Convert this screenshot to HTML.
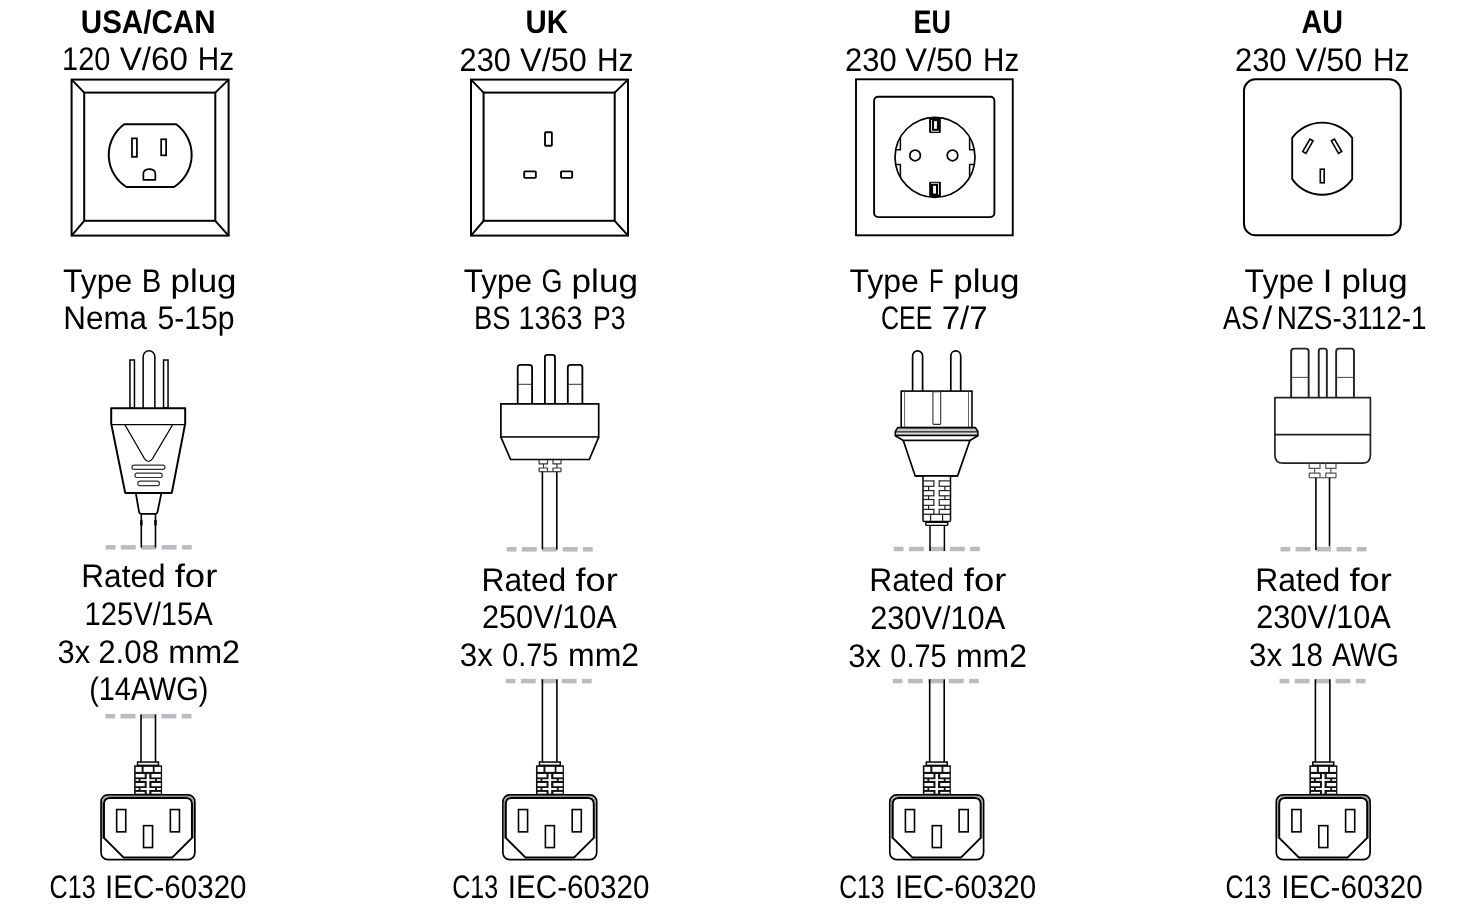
<!DOCTYPE html>
<html><head><meta charset="utf-8"><title>Plug types</title>
<style>
html,body{margin:0;padding:0;background:#fff;width:1460px;height:908px;overflow:hidden}
svg{display:block;will-change:transform}
text{font-family:"Liberation Sans",sans-serif;font-size:32.6px;fill:#000;text-rendering:geometricPrecision}
</style></head><body>
<svg width="1460" height="908" viewBox="0 0 1460 908">
<rect width="1460" height="908" fill="#fff"/>
<rect x="71.60" y="79.60" width="157.00" height="156.00" fill="none" stroke="#000" stroke-width="2"/>
<rect x="84.20" y="92.60" width="131.10" height="128.20" fill="none" stroke="#000" stroke-width="2"/>
<line x1="71.60" y1="79.60" x2="84.20" y2="92.60" stroke="#000" stroke-width="2"/>
<line x1="228.60" y1="79.60" x2="215.30" y2="92.60" stroke="#000" stroke-width="2"/>
<line x1="71.60" y1="235.60" x2="84.20" y2="220.80" stroke="#000" stroke-width="2"/>
<line x1="228.60" y1="235.60" x2="215.30" y2="220.80" stroke="#000" stroke-width="2"/>
<path d="M124.2,124.3 H176.2 A38,38 0 0 1 174,187 H126.4 A38,38 0 0 1 124.2,124.3 Z" fill="none" stroke="#000" stroke-width="2" stroke-linejoin="round"/>
<rect x="131.97" y="138.37" width="4.95" height="18.45" fill="none" stroke="#000" stroke-width="1.75"/>
<rect x="161.17" y="139.27" width="4.95" height="16.05" fill="none" stroke="#000" stroke-width="1.75"/>
<path d="M143.37,179.83 V173.3 A5.98,4.23 0 0 1 155.33,173.3 V179.83 Z" fill="none" stroke="#000" stroke-width="1.75" stroke-linejoin="round"/>
<rect x="471.00" y="79.60" width="157.00" height="156.00" fill="none" stroke="#000" stroke-width="2"/>
<rect x="483.60" y="92.60" width="131.10" height="128.20" fill="none" stroke="#000" stroke-width="2"/>
<line x1="471.00" y1="79.60" x2="483.60" y2="92.60" stroke="#000" stroke-width="2"/>
<line x1="628.00" y1="79.60" x2="614.70" y2="92.60" stroke="#000" stroke-width="2"/>
<line x1="471.00" y1="235.60" x2="483.60" y2="220.80" stroke="#000" stroke-width="2"/>
<line x1="628.00" y1="235.60" x2="614.70" y2="220.80" stroke="#000" stroke-width="2"/>
<rect x="545.03" y="132.23" width="6.85" height="13.55" rx="0.8" fill="none" stroke="#000" stroke-width="1.85"/>
<rect x="524.20" y="171.30" width="11.65" height="6.55" rx="0.8" fill="none" stroke="#000" stroke-width="1.85"/>
<rect x="561.00" y="171.30" width="11.15" height="6.55" rx="0.8" fill="none" stroke="#000" stroke-width="1.85"/>
<rect x="856.00" y="79.30" width="156.75" height="156.00" fill="none" stroke="#000" stroke-width="1.9"/>
<rect x="874.10" y="96.80" width="120.30" height="120.30" rx="4" fill="none" stroke="#000" stroke-width="1.9"/>
<circle cx="935.00" cy="157.30" r="40.00" fill="none" stroke="#000" stroke-width="1.7"/>
<circle cx="915.10" cy="155.45" r="5.30" fill="none" stroke="#000" stroke-width="1.75"/>
<circle cx="952.50" cy="155.45" r="5.30" fill="none" stroke="#000" stroke-width="1.75"/>
<g transform="rotate(0 935.0 157.3)">
<path d="M929.10,117.50 H940.80 V131.90 Q940.80,132.90 939.80,132.90 H930.10 Q929.10,132.90 929.10,131.90 Z" fill="#000"/>
<path d="M931.50,120.00 V131.30 H939.00" fill="none" stroke="#fff" stroke-width="0.9"/>
<rect x="934.00" y="121.10" width="2.90" height="7.70" fill="#fff"/>
</g>
<g transform="rotate(180 935.0 157.3)">
<path d="M929.10,117.50 H940.80 V131.90 Q940.80,132.90 939.80,132.90 H930.10 Q929.10,132.90 929.10,131.90 Z" fill="#000"/>
<path d="M931.50,120.00 V131.30 H939.00" fill="none" stroke="#fff" stroke-width="0.9"/>
<rect x="934.00" y="121.10" width="2.90" height="7.70" fill="#fff"/>
</g>
<path d="M900.40,137.23 V149.8 H895.71" fill="none" stroke="#000" stroke-width="1.5" stroke-linejoin="round"/>
<path d="M895.67,164.6 H900.40 V177.37" fill="none" stroke="#000" stroke-width="1.5" stroke-linejoin="round"/>
<path d="M969.60,137.23 V149.8 H974.29" fill="none" stroke="#000" stroke-width="1.5" stroke-linejoin="round"/>
<path d="M974.33,164.6 H969.60 V177.37" fill="none" stroke="#000" stroke-width="1.5" stroke-linejoin="round"/>
<rect x="1243.95" y="79.30" width="156.85" height="155.95" rx="11.5" fill="none" stroke="#000" stroke-width="2.0"/>
<path d="M1292.2,137.9 A37.2,37.2 0 0 1 1352.2,137.9 V179.1 A36.6,36.6 0 0 1 1292.2,179.1 Z" fill="none" stroke="#000" stroke-width="1.85" stroke-linejoin="round"/>
<rect x="-1.80" y="-7.20" width="3.6" height="14.4" fill="none" stroke="#000" stroke-width="1.6" transform="translate(1307.9,146.2) rotate(30)"/>
<rect x="-1.80" y="-7.20" width="3.6" height="14.4" fill="none" stroke="#000" stroke-width="1.6" transform="translate(1336.5,146.2) rotate(-30)"/>
<rect x="1320.30" y="169.20" width="3.90" height="13.60" fill="none" stroke="#000" stroke-width="1.6"/>
<rect x="105.70" y="545.05" width="9.70" height="4.50" fill="#babbbf"/>
<rect x="120.80" y="545.05" width="14.90" height="4.50" fill="#babbbf"/>
<rect x="141.20" y="545.05" width="15.00" height="4.50" fill="#babbbf"/>
<rect x="161.70" y="545.05" width="14.90" height="4.50" fill="#babbbf"/>
<rect x="182.00" y="545.05" width="9.70" height="4.50" fill="#babbbf"/>
<rect x="129.95" y="360.00" width="4.50" height="48.00" fill="#fff" stroke="#000" stroke-width="1.5"/>
<rect x="163.55" y="360.00" width="4.50" height="48.00" fill="#fff" stroke="#000" stroke-width="1.5"/>
<path d="M143.15,408 V356.6 A5.85,5.85 0 0 1 154.85,356.6 V408" fill="#fff" stroke="#000" stroke-width="1.5" stroke-linejoin="round"/>
<path d="M111.4,424.6 L125.2,492.9 H171.8 L185.0,424.6" fill="#fff" stroke="#000" stroke-width="2" stroke-linejoin="round"/>
<path d="M111.2,424.8 V408.3 H185.2 V424.8" fill="#fff" stroke="#000" stroke-width="2" stroke-linejoin="round"/>
<line x1="111.20" y1="424.60" x2="185.20" y2="424.60" stroke="#000" stroke-width="1.1"/>
<path d="M124.8,424.6 L144.5,458.6 Q148.5,464.5 152.5,458.6 L172.7,424.6" fill="none" stroke="#000" stroke-width="1.1" stroke-linejoin="round"/>
<rect x="132.00" y="465.20" width="33.00" height="4.20" rx="2.1" fill="none" stroke="#333" stroke-width="1.2"/>
<rect x="135.00" y="473.20" width="27.20" height="4.30" rx="2.1" fill="none" stroke="#333" stroke-width="1.2"/>
<rect x="137.80" y="481.20" width="21.60" height="4.40" rx="2.2" fill="none" stroke="#333" stroke-width="1.2"/>
<path d="M135.8,492.9 L139.0,511.6 Q139.4,513.9 141.6,513.9 H155.0 Q157.2,513.9 157.6,511.6 L161.4,492.9" fill="#fff" stroke="#000" stroke-width="1.8" stroke-linejoin="round"/>
<line x1="125.20" y1="492.90" x2="171.80" y2="492.90" stroke="#000" stroke-width="2.0"/>
<line x1="141.30" y1="513.90" x2="141.30" y2="547.50" stroke="#000" stroke-width="1.6"/>
<line x1="155.50" y1="513.90" x2="155.50" y2="547.50" stroke="#000" stroke-width="1.6"/>
<rect x="140.20" y="519.80" width="2.40" height="6.00" rx="0.8" fill="#000"/>
<rect x="154.30" y="519.80" width="2.40" height="6.00" rx="0.8" fill="#000"/>
<rect x="506.80" y="547.05" width="9.70" height="4.50" fill="#babbbf"/>
<rect x="521.90" y="547.05" width="14.90" height="4.50" fill="#babbbf"/>
<rect x="542.30" y="547.05" width="15.00" height="4.50" fill="#babbbf"/>
<rect x="562.80" y="547.05" width="14.90" height="4.50" fill="#babbbf"/>
<rect x="583.10" y="547.05" width="9.70" height="4.50" fill="#babbbf"/>
<path d="M517.7,404 V367.40000000000003 Q517.7,364.8 520.3000000000001,364.8 H529.5 Q532.1,364.8 532.1,367.40000000000003 V404" fill="#fff" stroke="#000" stroke-width="1.8" stroke-linejoin="round"/>
<path d="M567.8,404 V367.40000000000003 Q567.8,364.8 570.4,364.8 H579.8 Q582.4,364.8 582.4,367.40000000000003 V404" fill="#fff" stroke="#000" stroke-width="1.8" stroke-linejoin="round"/>
<path d="M544.9,404 V357.29999999999995 Q544.9,354.9 547.3,354.9 H552.6 Q555.0,354.9 555.0,357.29999999999995 V404" fill="#fff" stroke="#000" stroke-width="1.8" stroke-linejoin="round"/>
<line x1="517.70" y1="384.30" x2="532.10" y2="384.30" stroke="#333" stroke-width="1.0"/>
<line x1="567.80" y1="384.30" x2="582.40" y2="384.30" stroke="#333" stroke-width="1.0"/>
<rect x="500.90" y="403.90" width="97.80" height="33.20" fill="#fff" stroke="#000" stroke-width="1.7"/>
<path d="M500.9,437.1 L510.6,459.5 H589.3 L598.7,437.1" fill="#fff" stroke="#000" stroke-width="1.7" stroke-linejoin="round"/>
<line x1="500.90" y1="437.10" x2="598.70" y2="437.10" stroke="#111" stroke-width="1.2"/>
<path d="M539.1,459.8 V463.9 H547.5 V459.8" fill="none" stroke="#3a3a3a" stroke-width="1.2" stroke-linejoin="round"/>
<path d="M553.0,459.8 V463.9 H561.0 V459.8" fill="none" stroke="#3a3a3a" stroke-width="1.2" stroke-linejoin="round"/>
<line x1="543.50" y1="463.90" x2="543.50" y2="468.00" stroke="#3a3a3a" stroke-width="1.2"/>
<line x1="556.90" y1="463.90" x2="556.90" y2="468.00" stroke="#3a3a3a" stroke-width="1.2"/>
<path d="M539.1,471.7 V468.0 H547.5 V471.7" fill="none" stroke="#3a3a3a" stroke-width="1.2" stroke-linejoin="round"/>
<path d="M553.0,471.7 V468.0 H561.0 V471.7" fill="none" stroke="#3a3a3a" stroke-width="1.2" stroke-linejoin="round"/>
<line x1="539.10" y1="471.70" x2="561.00" y2="471.70" stroke="#3a3a3a" stroke-width="1.2"/>
<line x1="542.40" y1="471.70" x2="542.40" y2="549.40" stroke="#000" stroke-width="1.6"/>
<line x1="556.80" y1="471.70" x2="556.80" y2="549.40" stroke="#000" stroke-width="1.6"/>
<rect x="893.80" y="546.75" width="9.70" height="4.50" fill="#babbbf"/>
<rect x="908.90" y="546.75" width="14.90" height="4.50" fill="#babbbf"/>
<rect x="929.30" y="546.75" width="15.00" height="4.50" fill="#babbbf"/>
<rect x="949.80" y="546.75" width="14.90" height="4.50" fill="#babbbf"/>
<rect x="970.10" y="546.75" width="9.70" height="4.50" fill="#babbbf"/>
<path d="M912.6,391 V355.9 A5.0,5.0 0 0 1 922.6,355.9 V391" fill="#fff" stroke="#000" stroke-width="1.7" stroke-linejoin="round"/>
<path d="M950.8,391 V355.9 A4.95,4.95 0 0 1 960.7,355.9 V391" fill="#fff" stroke="#000" stroke-width="1.7" stroke-linejoin="round"/>
<rect x="901.20" y="391.10" width="70.80" height="36.60" fill="#fff" stroke="#000" stroke-width="1.6"/>
<line x1="904.60" y1="391.80" x2="904.60" y2="427.00" stroke="#666" stroke-width="1.0"/>
<line x1="968.50" y1="391.80" x2="968.50" y2="427.00" stroke="#666" stroke-width="1.0"/>
<rect x="932.90" y="391.80" width="7.80" height="32.60" rx="0.8" fill="none" stroke="#333" stroke-width="1.1"/>
<rect x="896.20" y="428.40" width="80.80" height="3.00" fill="#c8c8c8"/>
<rect x="895.80" y="432.40" width="81.60" height="2.60" fill="#e0e0e0"/>
<path d="M897.8,427.6 H975.4 L977.9,431.5 V435.5 H895.3 V431.5 Z" fill="none" stroke="#000" stroke-width="1.6" stroke-linejoin="round"/>
<line x1="895.60" y1="431.80" x2="977.60" y2="431.80" stroke="#111" stroke-width="1.2"/>
<path d="M895.0,435.5 L903.3,440.5 H969.9 L978.2,435.5" fill="#fff" stroke="#000" stroke-width="1.7" stroke-linejoin="round"/>
<path d="M903.3,440.5 L915.2,475.9 H957.6 L969.9,440.5" fill="#fff" stroke="#000" stroke-width="1.7" stroke-linejoin="round"/>
<line x1="895.30" y1="435.50" x2="977.90" y2="435.50" stroke="#000" stroke-width="1.7"/>
<line x1="903.30" y1="440.50" x2="969.90" y2="440.50" stroke="#000" stroke-width="1.7"/>
<path d="M923.0,475.9 V520.2 Q923.0,521.6 924.4,521.6 H949.1 Q950.5,521.6 950.5,520.2 V475.9" fill="#fff" stroke="#000" stroke-width="1.5" stroke-linejoin="round"/>
<line x1="923.00" y1="480.90" x2="933.90" y2="480.90" stroke="#222" stroke-width="1.2"/>
<line x1="939.20" y1="480.90" x2="950.50" y2="480.90" stroke="#222" stroke-width="1.2"/>
<line x1="923.00" y1="486.30" x2="933.90" y2="486.30" stroke="#222" stroke-width="1.2"/>
<line x1="939.20" y1="486.30" x2="950.50" y2="486.30" stroke="#222" stroke-width="1.2"/>
<line x1="923.00" y1="490.60" x2="933.90" y2="490.60" stroke="#222" stroke-width="1.2"/>
<line x1="939.20" y1="490.60" x2="950.50" y2="490.60" stroke="#222" stroke-width="1.2"/>
<line x1="923.00" y1="495.80" x2="933.90" y2="495.80" stroke="#222" stroke-width="1.2"/>
<line x1="939.20" y1="495.80" x2="950.50" y2="495.80" stroke="#222" stroke-width="1.2"/>
<line x1="923.00" y1="499.50" x2="933.90" y2="499.50" stroke="#222" stroke-width="1.2"/>
<line x1="939.20" y1="499.50" x2="950.50" y2="499.50" stroke="#222" stroke-width="1.2"/>
<line x1="923.00" y1="505.30" x2="933.90" y2="505.30" stroke="#222" stroke-width="1.2"/>
<line x1="939.20" y1="505.30" x2="950.50" y2="505.30" stroke="#222" stroke-width="1.2"/>
<line x1="923.00" y1="509.40" x2="933.90" y2="509.40" stroke="#222" stroke-width="1.2"/>
<line x1="939.20" y1="509.40" x2="950.50" y2="509.40" stroke="#222" stroke-width="1.2"/>
<line x1="923.00" y1="514.30" x2="950.50" y2="514.30" stroke="#222" stroke-width="1.3"/>
<line x1="933.90" y1="480.30" x2="933.90" y2="486.90" stroke="#222" stroke-width="1.2"/>
<line x1="939.20" y1="480.30" x2="939.20" y2="486.90" stroke="#222" stroke-width="1.2"/>
<line x1="933.90" y1="490.00" x2="933.90" y2="496.40" stroke="#222" stroke-width="1.2"/>
<line x1="939.20" y1="490.00" x2="939.20" y2="496.40" stroke="#222" stroke-width="1.2"/>
<line x1="933.90" y1="498.90" x2="933.90" y2="505.90" stroke="#222" stroke-width="1.2"/>
<line x1="939.20" y1="498.90" x2="939.20" y2="505.90" stroke="#222" stroke-width="1.2"/>
<line x1="933.90" y1="508.80" x2="933.90" y2="514.90" stroke="#222" stroke-width="1.2"/>
<line x1="939.20" y1="508.80" x2="939.20" y2="514.90" stroke="#222" stroke-width="1.2"/>
<line x1="928.60" y1="486.30" x2="928.60" y2="490.60" stroke="#222" stroke-width="1.2"/>
<line x1="944.90" y1="486.30" x2="944.90" y2="490.60" stroke="#222" stroke-width="1.2"/>
<line x1="928.60" y1="495.80" x2="928.60" y2="499.50" stroke="#222" stroke-width="1.2"/>
<line x1="944.90" y1="495.80" x2="944.90" y2="499.50" stroke="#222" stroke-width="1.2"/>
<line x1="928.60" y1="505.30" x2="928.60" y2="509.40" stroke="#222" stroke-width="1.2"/>
<line x1="944.90" y1="505.30" x2="944.90" y2="509.40" stroke="#222" stroke-width="1.2"/>
<line x1="930.60" y1="514.30" x2="930.60" y2="521.60" stroke="#222" stroke-width="1.2"/>
<line x1="942.60" y1="514.30" x2="942.60" y2="521.60" stroke="#222" stroke-width="1.2"/>
<rect x="925.80" y="522.20" width="22.00" height="3.20" rx="1" fill="#fff" stroke="#000" stroke-width="1.4"/>
<line x1="915.20" y1="475.90" x2="957.60" y2="475.90" stroke="#000" stroke-width="1.7"/>
<line x1="930.00" y1="525.60" x2="930.00" y2="551.00" stroke="#000" stroke-width="1.5"/>
<line x1="944.40" y1="525.60" x2="944.40" y2="551.00" stroke="#000" stroke-width="1.5"/>
<rect x="1280.50" y="546.95" width="9.70" height="4.50" fill="#babbbf"/>
<rect x="1295.60" y="546.95" width="14.90" height="4.50" fill="#babbbf"/>
<rect x="1316.00" y="546.95" width="15.00" height="4.50" fill="#babbbf"/>
<rect x="1336.50" y="546.95" width="14.90" height="4.50" fill="#babbbf"/>
<rect x="1356.80" y="546.95" width="9.70" height="4.50" fill="#babbbf"/>
<path d="M1291.15,397.5 V351.40000000000003 Q1291.15,348.6 1293.95,348.6 H1305.8500000000001 Q1308.65,348.6 1308.65,351.40000000000003 V397.5" fill="#fff" stroke="#222" stroke-width="1.9" stroke-linejoin="round"/>
<path d="M1336.15,397.5 V351.40000000000003 Q1336.15,348.6 1338.95,348.6 H1351.15 Q1353.95,348.6 1353.95,351.40000000000003 V397.5" fill="#fff" stroke="#222" stroke-width="1.9" stroke-linejoin="round"/>
<path d="M1318.75,397.5 V351.0 Q1318.75,348.6 1321.15,348.6 H1324.4499999999998 Q1326.85,348.6 1326.85,351.0 V397.5" fill="#fff" stroke="#222" stroke-width="1.9" stroke-linejoin="round"/>
<line x1="1291.15" y1="377.40" x2="1308.65" y2="377.40" stroke="#444" stroke-width="1.0"/>
<line x1="1336.15" y1="377.40" x2="1353.95" y2="377.40" stroke="#444" stroke-width="1.0"/>
<path d="M1274.9,397.7 H1370.4 V455 Q1370.4,463.2 1362.2,463.2 H1283.1 Q1274.9,463.2 1274.9,455 Z" fill="#fff" stroke="#222" stroke-width="1.7" stroke-linejoin="round"/>
<line x1="1274.90" y1="434.60" x2="1370.40" y2="434.60" stroke="#222" stroke-width="1.7"/>
<path d="M1309.2,463.2 V468.4 H1320.0 V463.2" fill="none" stroke="#555" stroke-width="1.2" stroke-linejoin="round"/>
<path d="M1325.8,463.2 V468.4 H1336.0 V463.2" fill="none" stroke="#555" stroke-width="1.2" stroke-linejoin="round"/>
<line x1="1314.60" y1="468.40" x2="1314.60" y2="473.20" stroke="#555" stroke-width="1.2"/>
<line x1="1330.80" y1="468.40" x2="1330.80" y2="473.20" stroke="#555" stroke-width="1.2"/>
<path d="M1309.2,477.7 V473.2 H1320.0 V477.7" fill="none" stroke="#555" stroke-width="1.2" stroke-linejoin="round"/>
<path d="M1325.8,477.7 V473.2 H1336.0 V477.7" fill="none" stroke="#555" stroke-width="1.2" stroke-linejoin="round"/>
<line x1="1309.20" y1="477.70" x2="1336.00" y2="477.70" stroke="#555" stroke-width="1.2"/>
<line x1="1315.90" y1="477.70" x2="1315.90" y2="549.90" stroke="#000" stroke-width="1.6"/>
<line x1="1329.50" y1="477.70" x2="1329.50" y2="546.40" stroke="#000" stroke-width="1.6"/>
<rect x="105.45" y="713.95" width="9.70" height="4.50" fill="#babbbf"/>
<rect x="120.55" y="713.95" width="14.90" height="4.50" fill="#babbbf"/>
<rect x="140.95" y="713.95" width="15.00" height="4.50" fill="#babbbf"/>
<rect x="161.45" y="713.95" width="14.90" height="4.50" fill="#babbbf"/>
<rect x="181.75" y="713.95" width="9.70" height="4.50" fill="#babbbf"/>
<line x1="141.00" y1="714.40" x2="141.00" y2="761.80" stroke="#000" stroke-width="1.6"/>
<line x1="155.50" y1="714.40" x2="155.50" y2="761.80" stroke="#000" stroke-width="1.6"/>
<rect x="137.55" y="762.05" width="20.90" height="3.30" fill="#fff" stroke="#000" stroke-width="1.5"/>
<rect x="134.10" y="765.30" width="28.00" height="30.00" fill="#111"/>
<rect x="135.70" y="766.90" width="5.90" height="5.00" fill="#fff"/>
<rect x="143.60" y="766.90" width="9.20" height="5.00" fill="#fff"/>
<rect x="154.60" y="766.90" width="6.20" height="5.00" fill="#fff"/>
<rect x="135.70" y="774.00" width="9.00" height="3.40" fill="#fff"/>
<rect x="151.50" y="774.00" width="9.30" height="3.40" fill="#fff"/>
<rect x="135.70" y="779.20" width="3.00" height="1.70" fill="#fff"/>
<rect x="140.50" y="779.20" width="14.50" height="1.70" fill="#fff"/>
<rect x="156.80" y="779.20" width="4.00" height="1.70" fill="#fff"/>
<rect x="135.70" y="783.00" width="9.00" height="3.20" fill="#fff"/>
<rect x="151.50" y="783.00" width="9.30" height="3.20" fill="#fff"/>
<rect x="135.70" y="788.00" width="3.00" height="2.00" fill="#fff"/>
<rect x="140.50" y="788.00" width="14.50" height="2.00" fill="#fff"/>
<rect x="156.80" y="788.00" width="4.00" height="2.00" fill="#fff"/>
<rect x="135.70" y="791.90" width="9.00" height="1.80" fill="#fff"/>
<rect x="151.50" y="791.90" width="9.30" height="1.80" fill="#fff"/>
<rect x="146.70" y="774.00" width="2.60" height="19.70" fill="#fff"/>
<rect x="101.05" y="794.9" width="93.8" height="64.7" rx="6.8" fill="#fff" stroke="#000" stroke-width="1.7"/>
<path d="M102.50,838.6 V803 Q102.50,796.4 108.95,796.4 H186.95 Q193.40,796.4 193.40,803 V838.6" fill="none" stroke="#888" stroke-width="1.0" stroke-linejoin="round"/>
<path d="M103.95,837.9 V804 Q103.95,797.9 109.95,797.9 H185.95 Q191.95,797.9 191.95,804 V837.9 L172.15,857.6 H123.75 Z" fill="none" stroke="#000" stroke-width="2.0" stroke-linejoin="round"/>
<rect x="116.65" y="809.55" width="9.10" height="22.30" fill="none" stroke="#000" stroke-width="1.6"/>
<rect x="170.35" y="809.55" width="9.10" height="22.30" fill="none" stroke="#000" stroke-width="1.6"/>
<rect x="143.55" y="825.65" width="9.00" height="21.90" fill="none" stroke="#000" stroke-width="1.6"/>
<rect x="505.70" y="678.85" width="9.70" height="4.50" fill="#babbbf"/>
<rect x="520.80" y="678.85" width="14.90" height="4.50" fill="#babbbf"/>
<rect x="541.20" y="678.85" width="15.00" height="4.50" fill="#babbbf"/>
<rect x="561.70" y="678.85" width="14.90" height="4.50" fill="#babbbf"/>
<rect x="582.00" y="678.85" width="9.70" height="4.50" fill="#babbbf"/>
<line x1="542.40" y1="679.30" x2="542.40" y2="761.80" stroke="#000" stroke-width="1.6"/>
<line x1="556.90" y1="679.30" x2="556.90" y2="761.80" stroke="#000" stroke-width="1.6"/>
<rect x="539.40" y="762.05" width="20.90" height="3.30" fill="#fff" stroke="#000" stroke-width="1.5"/>
<rect x="535.95" y="765.30" width="28.00" height="30.00" fill="#111"/>
<rect x="537.55" y="766.90" width="5.90" height="5.00" fill="#fff"/>
<rect x="545.45" y="766.90" width="9.20" height="5.00" fill="#fff"/>
<rect x="556.45" y="766.90" width="6.20" height="5.00" fill="#fff"/>
<rect x="537.55" y="774.00" width="9.00" height="3.40" fill="#fff"/>
<rect x="553.35" y="774.00" width="9.30" height="3.40" fill="#fff"/>
<rect x="537.55" y="779.20" width="3.00" height="1.70" fill="#fff"/>
<rect x="542.35" y="779.20" width="14.50" height="1.70" fill="#fff"/>
<rect x="558.65" y="779.20" width="4.00" height="1.70" fill="#fff"/>
<rect x="537.55" y="783.00" width="9.00" height="3.20" fill="#fff"/>
<rect x="553.35" y="783.00" width="9.30" height="3.20" fill="#fff"/>
<rect x="537.55" y="788.00" width="3.00" height="2.00" fill="#fff"/>
<rect x="542.35" y="788.00" width="14.50" height="2.00" fill="#fff"/>
<rect x="558.65" y="788.00" width="4.00" height="2.00" fill="#fff"/>
<rect x="537.55" y="791.90" width="9.00" height="1.80" fill="#fff"/>
<rect x="553.35" y="791.90" width="9.30" height="1.80" fill="#fff"/>
<rect x="548.55" y="774.00" width="2.60" height="19.70" fill="#fff"/>
<rect x="502.90" y="794.9" width="93.8" height="64.7" rx="6.8" fill="#fff" stroke="#000" stroke-width="1.7"/>
<path d="M504.35,838.6 V803 Q504.35,796.4 510.80,796.4 H588.80 Q595.25,796.4 595.25,803 V838.6" fill="none" stroke="#888" stroke-width="1.0" stroke-linejoin="round"/>
<path d="M505.80,837.9 V804 Q505.80,797.9 511.80,797.9 H587.80 Q593.80,797.9 593.80,804 V837.9 L574.00,857.6 H525.60 Z" fill="none" stroke="#000" stroke-width="2.0" stroke-linejoin="round"/>
<rect x="518.50" y="809.55" width="9.10" height="22.30" fill="none" stroke="#000" stroke-width="1.6"/>
<rect x="572.20" y="809.55" width="9.10" height="22.30" fill="none" stroke="#000" stroke-width="1.6"/>
<rect x="545.40" y="825.65" width="9.00" height="21.90" fill="none" stroke="#000" stroke-width="1.6"/>
<rect x="892.80" y="678.85" width="9.70" height="4.50" fill="#babbbf"/>
<rect x="907.90" y="678.85" width="14.90" height="4.50" fill="#babbbf"/>
<rect x="928.30" y="678.85" width="15.00" height="4.50" fill="#babbbf"/>
<rect x="948.80" y="678.85" width="14.90" height="4.50" fill="#babbbf"/>
<rect x="969.10" y="678.85" width="9.70" height="4.50" fill="#babbbf"/>
<line x1="929.70" y1="679.30" x2="929.70" y2="761.80" stroke="#000" stroke-width="1.6"/>
<line x1="944.20" y1="679.30" x2="944.20" y2="761.80" stroke="#000" stroke-width="1.6"/>
<rect x="926.30" y="762.05" width="20.90" height="3.30" fill="#fff" stroke="#000" stroke-width="1.5"/>
<rect x="922.85" y="765.30" width="28.00" height="30.00" fill="#111"/>
<rect x="924.45" y="766.90" width="5.90" height="5.00" fill="#fff"/>
<rect x="932.35" y="766.90" width="9.20" height="5.00" fill="#fff"/>
<rect x="943.35" y="766.90" width="6.20" height="5.00" fill="#fff"/>
<rect x="924.45" y="774.00" width="9.00" height="3.40" fill="#fff"/>
<rect x="940.25" y="774.00" width="9.30" height="3.40" fill="#fff"/>
<rect x="924.45" y="779.20" width="3.00" height="1.70" fill="#fff"/>
<rect x="929.25" y="779.20" width="14.50" height="1.70" fill="#fff"/>
<rect x="945.55" y="779.20" width="4.00" height="1.70" fill="#fff"/>
<rect x="924.45" y="783.00" width="9.00" height="3.20" fill="#fff"/>
<rect x="940.25" y="783.00" width="9.30" height="3.20" fill="#fff"/>
<rect x="924.45" y="788.00" width="3.00" height="2.00" fill="#fff"/>
<rect x="929.25" y="788.00" width="14.50" height="2.00" fill="#fff"/>
<rect x="945.55" y="788.00" width="4.00" height="2.00" fill="#fff"/>
<rect x="924.45" y="791.90" width="9.00" height="1.80" fill="#fff"/>
<rect x="940.25" y="791.90" width="9.30" height="1.80" fill="#fff"/>
<rect x="935.45" y="774.00" width="2.60" height="19.70" fill="#fff"/>
<rect x="889.80" y="794.9" width="93.8" height="64.7" rx="6.8" fill="#fff" stroke="#000" stroke-width="1.7"/>
<path d="M891.25,838.6 V803 Q891.25,796.4 897.70,796.4 H975.70 Q982.15,796.4 982.15,803 V838.6" fill="none" stroke="#888" stroke-width="1.0" stroke-linejoin="round"/>
<path d="M892.70,837.9 V804 Q892.70,797.9 898.70,797.9 H974.70 Q980.70,797.9 980.70,804 V837.9 L960.90,857.6 H912.50 Z" fill="none" stroke="#000" stroke-width="2.0" stroke-linejoin="round"/>
<rect x="905.40" y="809.55" width="9.10" height="22.30" fill="none" stroke="#000" stroke-width="1.6"/>
<rect x="959.10" y="809.55" width="9.10" height="22.30" fill="none" stroke="#000" stroke-width="1.6"/>
<rect x="932.30" y="825.65" width="9.00" height="21.90" fill="none" stroke="#000" stroke-width="1.6"/>
<rect x="1279.50" y="678.85" width="9.70" height="4.50" fill="#babbbf"/>
<rect x="1294.60" y="678.85" width="14.90" height="4.50" fill="#babbbf"/>
<rect x="1315.00" y="678.85" width="15.00" height="4.50" fill="#babbbf"/>
<rect x="1335.50" y="678.85" width="14.90" height="4.50" fill="#babbbf"/>
<rect x="1355.80" y="678.85" width="9.70" height="4.50" fill="#babbbf"/>
<line x1="1315.40" y1="679.30" x2="1315.40" y2="761.80" stroke="#000" stroke-width="1.6"/>
<line x1="1329.90" y1="679.30" x2="1329.90" y2="761.80" stroke="#000" stroke-width="1.6"/>
<rect x="1312.80" y="762.05" width="20.90" height="3.30" fill="#fff" stroke="#000" stroke-width="1.5"/>
<rect x="1309.35" y="765.30" width="28.00" height="30.00" fill="#111"/>
<rect x="1310.95" y="766.90" width="5.90" height="5.00" fill="#fff"/>
<rect x="1318.85" y="766.90" width="9.20" height="5.00" fill="#fff"/>
<rect x="1329.85" y="766.90" width="6.20" height="5.00" fill="#fff"/>
<rect x="1310.95" y="774.00" width="9.00" height="3.40" fill="#fff"/>
<rect x="1326.75" y="774.00" width="9.30" height="3.40" fill="#fff"/>
<rect x="1310.95" y="779.20" width="3.00" height="1.70" fill="#fff"/>
<rect x="1315.75" y="779.20" width="14.50" height="1.70" fill="#fff"/>
<rect x="1332.05" y="779.20" width="4.00" height="1.70" fill="#fff"/>
<rect x="1310.95" y="783.00" width="9.00" height="3.20" fill="#fff"/>
<rect x="1326.75" y="783.00" width="9.30" height="3.20" fill="#fff"/>
<rect x="1310.95" y="788.00" width="3.00" height="2.00" fill="#fff"/>
<rect x="1315.75" y="788.00" width="14.50" height="2.00" fill="#fff"/>
<rect x="1332.05" y="788.00" width="4.00" height="2.00" fill="#fff"/>
<rect x="1310.95" y="791.90" width="9.00" height="1.80" fill="#fff"/>
<rect x="1326.75" y="791.90" width="9.30" height="1.80" fill="#fff"/>
<rect x="1321.95" y="774.00" width="2.60" height="19.70" fill="#fff"/>
<rect x="1276.30" y="794.9" width="93.8" height="64.7" rx="6.8" fill="#fff" stroke="#000" stroke-width="1.7"/>
<path d="M1277.75,838.6 V803 Q1277.75,796.4 1284.20,796.4 H1362.20 Q1368.65,796.4 1368.65,803 V838.6" fill="none" stroke="#888" stroke-width="1.0" stroke-linejoin="round"/>
<path d="M1279.20,837.9 V804 Q1279.20,797.9 1285.20,797.9 H1361.20 Q1367.20,797.9 1367.20,804 V837.9 L1347.40,857.6 H1299.00 Z" fill="none" stroke="#000" stroke-width="2.0" stroke-linejoin="round"/>
<rect x="1291.90" y="809.55" width="9.10" height="22.30" fill="none" stroke="#000" stroke-width="1.6"/>
<rect x="1345.60" y="809.55" width="9.10" height="22.30" fill="none" stroke="#000" stroke-width="1.6"/>
<rect x="1318.80" y="825.65" width="9.00" height="21.90" fill="none" stroke="#000" stroke-width="1.6"/>
<text x="80.78" y="33.00" textLength="134.78" lengthAdjust="spacingAndGlyphs" font-weight="bold">USA/CAN</text>
<text x="525.52" y="33.00" textLength="42.41" lengthAdjust="spacingAndGlyphs" font-weight="bold">UK</text>
<text x="913.61" y="33.00" textLength="37.47" lengthAdjust="spacingAndGlyphs" font-weight="bold">EU</text>
<text x="1301.54" y="33.00" textLength="41.48" lengthAdjust="spacingAndGlyphs" font-weight="bold">AU</text>
<text x="62.10" y="70.30" textLength="48.23" lengthAdjust="spacingAndGlyphs" font-weight="normal">120</text>
<text x="119.69" y="70.30" textLength="68.12" lengthAdjust="spacingAndGlyphs" font-weight="normal">V/60</text>
<text x="197.84" y="70.30" textLength="36.27" lengthAdjust="spacingAndGlyphs" font-weight="normal">Hz</text>
<text x="459.57" y="70.50" textLength="51.29" lengthAdjust="spacingAndGlyphs" font-weight="normal">230</text>
<text x="520.02" y="70.50" textLength="66.86" lengthAdjust="spacingAndGlyphs" font-weight="normal">V/50</text>
<text x="597.00" y="70.50" textLength="36.53" lengthAdjust="spacingAndGlyphs" font-weight="normal">Hz</text>
<text x="844.99" y="70.50" textLength="51.61" lengthAdjust="spacingAndGlyphs" font-weight="normal">230</text>
<text x="905.15" y="70.50" textLength="67.22" lengthAdjust="spacingAndGlyphs" font-weight="normal">V/50</text>
<text x="983.09" y="70.50" textLength="36.10" lengthAdjust="spacingAndGlyphs" font-weight="normal">Hz</text>
<text x="1234.98" y="70.50" textLength="51.60" lengthAdjust="spacingAndGlyphs" font-weight="normal">230</text>
<text x="1295.48" y="70.50" textLength="66.92" lengthAdjust="spacingAndGlyphs" font-weight="normal">V/50</text>
<text x="1373.07" y="70.50" textLength="36.47" lengthAdjust="spacingAndGlyphs" font-weight="normal">Hz</text>
<text x="63.07" y="291.70" textLength="69.10" lengthAdjust="spacingAndGlyphs" font-weight="normal">Type</text>
<text x="141.69" y="291.70" textLength="19.59" lengthAdjust="spacingAndGlyphs" font-weight="normal">B</text>
<text x="170.49" y="291.70" textLength="66.04" lengthAdjust="spacingAndGlyphs" font-weight="normal">plug</text>
<text x="463.69" y="291.60" textLength="68.35" lengthAdjust="spacingAndGlyphs" font-weight="normal">Type</text>
<text x="541.49" y="291.60" textLength="20.96" lengthAdjust="spacingAndGlyphs" font-weight="normal">G</text>
<text x="571.49" y="291.60" textLength="66.55" lengthAdjust="spacingAndGlyphs" font-weight="normal">plug</text>
<text x="849.51" y="291.60" textLength="69.41" lengthAdjust="spacingAndGlyphs" font-weight="normal">Type</text>
<text x="929.09" y="291.60" textLength="14.65" lengthAdjust="spacingAndGlyphs" font-weight="normal">F</text>
<text x="953.25" y="291.60" textLength="66.34" lengthAdjust="spacingAndGlyphs" font-weight="normal">plug</text>
<text x="1244.61" y="292.00" textLength="69.36" lengthAdjust="spacingAndGlyphs" font-weight="normal">Type</text>
<text x="1322.60" y="292.00" textLength="10.09" lengthAdjust="spacingAndGlyphs" font-weight="normal">I</text>
<text x="1341.59" y="292.00" textLength="66.02" lengthAdjust="spacingAndGlyphs" font-weight="normal">plug</text>
<text x="63.31" y="329.40" textLength="83.72" lengthAdjust="spacingAndGlyphs" font-weight="normal">Nema</text>
<text x="157.51" y="329.40" textLength="77.13" lengthAdjust="spacingAndGlyphs" font-weight="normal">5-15p</text>
<text x="473.89" y="328.80" textLength="36.52" lengthAdjust="spacingAndGlyphs" font-weight="normal">BS</text>
<text x="518.45" y="328.80" textLength="64.22" lengthAdjust="spacingAndGlyphs" font-weight="normal">1363</text>
<text x="592.99" y="328.80" textLength="32.47" lengthAdjust="spacingAndGlyphs" font-weight="normal">P3</text>
<text x="880.96" y="329.00" textLength="51.52" lengthAdjust="spacingAndGlyphs" font-weight="normal">CEE</text>
<text x="941.70" y="329.00" textLength="45.96" lengthAdjust="spacingAndGlyphs" font-weight="normal">7/7</text>
<text x="1222.96" y="329.00" textLength="36.02" lengthAdjust="spacingAndGlyphs" font-weight="normal">AS</text>
<text x="1262.30" y="329.00" textLength="10.03" lengthAdjust="spacingAndGlyphs" font-weight="normal">/</text>
<text x="1276.65" y="329.00" textLength="149.84" lengthAdjust="spacingAndGlyphs" font-weight="normal">NZS-3112-1</text>
<text x="81.30" y="587.40" textLength="84.19" lengthAdjust="spacingAndGlyphs" font-weight="normal">Rated</text>
<text x="174.69" y="587.40" textLength="42.71" lengthAdjust="spacingAndGlyphs" font-weight="normal">for</text>
<text x="84.62" y="625.00" textLength="128.01" lengthAdjust="spacingAndGlyphs" font-weight="normal">125V/15A</text>
<text x="57.50" y="662.50" textLength="32.65" lengthAdjust="spacingAndGlyphs" font-weight="normal">3x</text>
<text x="98.20" y="662.50" textLength="60.89" lengthAdjust="spacingAndGlyphs" font-weight="normal">2.08</text>
<text x="168.32" y="662.50" textLength="71.67" lengthAdjust="spacingAndGlyphs" font-weight="normal">mm2</text>
<text x="89.21" y="699.70" textLength="119.13" lengthAdjust="spacingAndGlyphs" font-weight="normal">(14AWG)</text>
<text x="481.42" y="590.80" textLength="84.89" lengthAdjust="spacingAndGlyphs" font-weight="normal">Rated</text>
<text x="575.52" y="590.80" textLength="42.18" lengthAdjust="spacingAndGlyphs" font-weight="normal">for</text>
<text x="481.88" y="628.40" textLength="135.00" lengthAdjust="spacingAndGlyphs" font-weight="normal">250V/10A</text>
<text x="459.87" y="665.90" textLength="33.16" lengthAdjust="spacingAndGlyphs" font-weight="normal">3x</text>
<text x="502.25" y="665.90" textLength="56.08" lengthAdjust="spacingAndGlyphs" font-weight="normal">0.75</text>
<text x="567.99" y="665.90" textLength="71.16" lengthAdjust="spacingAndGlyphs" font-weight="normal">mm2</text>
<text x="869.21" y="591.40" textLength="85.10" lengthAdjust="spacingAndGlyphs" font-weight="normal">Rated</text>
<text x="963.87" y="591.40" textLength="42.57" lengthAdjust="spacingAndGlyphs" font-weight="normal">for</text>
<text x="870.18" y="629.20" textLength="135.04" lengthAdjust="spacingAndGlyphs" font-weight="normal">230V/10A</text>
<text x="848.24" y="666.80" textLength="32.69" lengthAdjust="spacingAndGlyphs" font-weight="normal">3x</text>
<text x="890.34" y="666.80" textLength="56.20" lengthAdjust="spacingAndGlyphs" font-weight="normal">0.75</text>
<text x="955.95" y="666.80" textLength="71.12" lengthAdjust="spacingAndGlyphs" font-weight="normal">mm2</text>
<text x="1255.19" y="590.80" textLength="85.18" lengthAdjust="spacingAndGlyphs" font-weight="normal">Rated</text>
<text x="1349.47" y="590.80" textLength="42.29" lengthAdjust="spacingAndGlyphs" font-weight="normal">for</text>
<text x="1256.24" y="628.00" textLength="134.48" lengthAdjust="spacingAndGlyphs" font-weight="normal">230V/10A</text>
<text x="1248.94" y="665.60" textLength="33.17" lengthAdjust="spacingAndGlyphs" font-weight="normal">3x</text>
<text x="1290.00" y="665.60" textLength="32.86" lengthAdjust="spacingAndGlyphs" font-weight="normal">18</text>
<text x="1332.05" y="665.60" textLength="66.79" lengthAdjust="spacingAndGlyphs" font-weight="normal">AWG</text>
<text x="49.55" y="897.90" textLength="46.07" lengthAdjust="spacingAndGlyphs" font-weight="normal">C13</text>
<text x="105.09" y="897.90" textLength="141.48" lengthAdjust="spacingAndGlyphs" font-weight="normal">IEC-60320</text>
<text x="452.24" y="897.90" textLength="45.94" lengthAdjust="spacingAndGlyphs" font-weight="normal">C13</text>
<text x="507.84" y="897.90" textLength="141.68" lengthAdjust="spacingAndGlyphs" font-weight="normal">IEC-60320</text>
<text x="839.22" y="897.90" textLength="45.42" lengthAdjust="spacingAndGlyphs" font-weight="normal">C13</text>
<text x="894.95" y="897.90" textLength="141.23" lengthAdjust="spacingAndGlyphs" font-weight="normal">IEC-60320</text>
<text x="1225.57" y="897.90" textLength="45.68" lengthAdjust="spacingAndGlyphs" font-weight="normal">C13</text>
<text x="1281.26" y="897.90" textLength="141.49" lengthAdjust="spacingAndGlyphs" font-weight="normal">IEC-60320</text>
</svg>
</body></html>
